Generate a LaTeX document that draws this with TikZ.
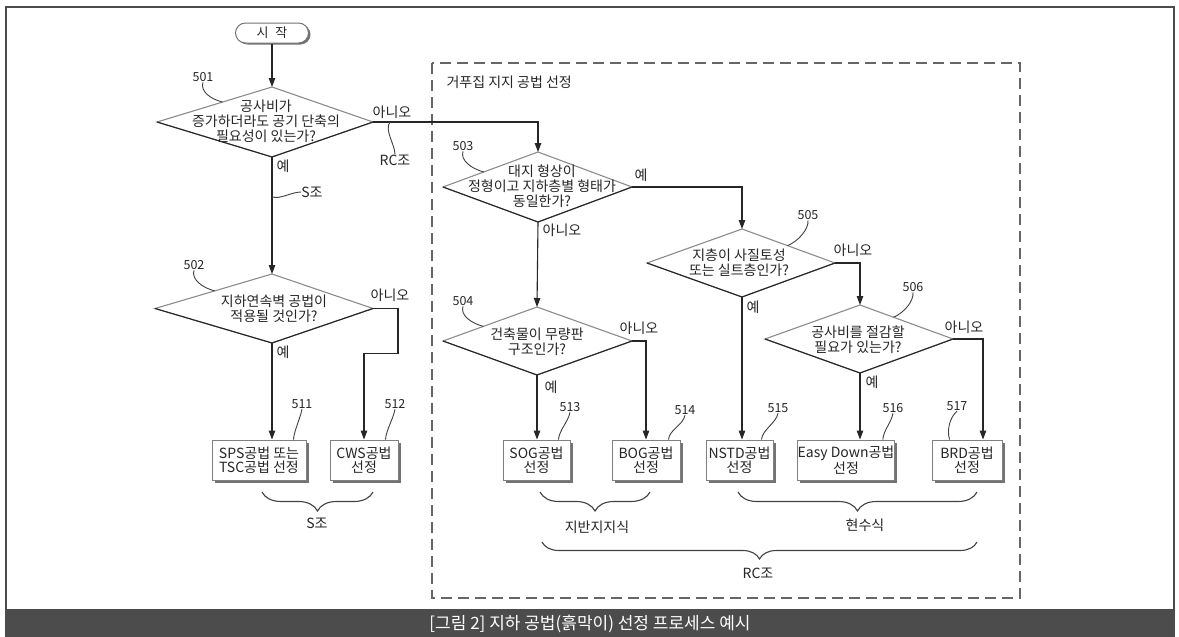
\documentclass[tikz,border=0pt]{standalone}
\usepackage{fontspec}
\setmainfont{Noto Sans CJK KR}
\usetikzlibrary{shapes.misc,arrows.meta,decorations.pathreplacing,shadows,calc}
\newcommand{\myfs}[2]{\fontsize{#1}{#2}\selectfont}
% name, cx, cy, half-width left, half-width right, half-height
\newcommand{\mykite}[6]{%
  \coordinate (#1n) at (#2,#3-#6);
  \coordinate (#1s) at (#2,#3+#6);
  \coordinate (#1w) at (#2-#4,#3);
  \coordinate (#1e) at (#2+#5,#3);
  \draw[dlite] (#1w) -- (#1n) -- (#1e) -- (#1s) -- cycle;
  \draw[ddark] (#1w) -- (#1s) -- (#1e);
}
\begin{document}
\begin{tikzpicture}[x=1pt,y=-1pt,
  ln/.style={draw=black!85, line width=1.1pt, line join=miter},
  arr/.style={ln, -{Triangle[length=9pt,width=6.5pt]}},
  dlite/.style={draw=black!45, line width=1.1pt, line join=miter},
  ddark/.style={draw=black!85, line width=1.1pt, line join=miter},
  dtxt/.style={align=center, font=\myfs{14}{14.8}, text=black!85, inner sep=0pt},
  box/.style={rectangle, draw=black!50, line width=0.9pt, fill=white, minimum height=40pt, inner sep=0pt, align=center, font=\myfs{14}{14.5}, text=black!85, drop shadow={shadow xshift=2.5pt, shadow yshift=-2.5pt, fill=black!55, opacity=1}},
  num/.style={font=\myfs{12.5}{13}, text=black!85, inner sep=0.5pt},
  yn/.style={font=\myfs{14}{15}, text=black!85, inner sep=0pt},
  lead/.style={draw=black!75, line width=0.9pt},
  brc/.style={draw=black!75, line width=1.1pt, decorate, decoration={brace, mirror, amplitude=19pt}}
]
\useasboundingbox (0,0) rectangle (1179,637);
\fill[white] (0,0) rectangle (1179,637);
% outer frame and caption bar
\draw[draw=black!70, line width=1.5pt] (6,7) rectangle (1174,610);
\fill[black!70] (5,611) rectangle (1175,637);
\node[text=white, font=\myfs{17}{18}] (cap) at (590,624) {[그림 2] 지하 공법(흙막이) 선정 프로세스 예시};

% dashed group frame
\draw[draw=black!60, line width=1.1pt, dash pattern=on 11pt off 6pt] (432,63) rectangle (1020,598);
\node[anchor=west, font=\myfs{14}{15}, text=black!85] (ttl) at (443,82) {거푸집 지지 공법 선정};

% start
\node[rounded rectangle, draw=black!55, line width=1pt, fill=white, minimum width=73pt, minimum height=20pt, inner sep=0pt, font=\myfs{13}{14}, text=black!85, drop shadow={shadow xshift=2pt, shadow yshift=-1.5pt, fill=black!55, opacity=1}] (start) at (272,33) {시\hspace{7pt}작};

% decisions
\mykite{d501}{272}{122}{115}{101}{35}
\mykite{d502}{272}{308.5}{117}{101}{34.5}
\mykite{d503}{538}{187}{95}{94}{35}
\mykite{d504}{537}{341}{94}{95}{34}
\mykite{d505}{742}{263}{95}{93}{34}
\mykite{d506}{860}{339}{95}{93}{34}

\node[dtxt] (t501) at (266,121) {공사비가\\증가하더라도 공기 단축의\\필요성이 있는가?};
\node[dtxt] (t502) at (274,309) {지하연속벽 공법이\\적용될 것인가?};
\node[dtxt] (t503) at (542,186) {대지 형상이\\정형이고 지하층별 형태가\\동일한가?};
\node[dtxt] (t504) at (537,342) {건축물이 무량판\\구조인가?};
\node[dtxt] (t505) at (739,263) {지층이 사질토성\\또는 실트층인가?};
\node[dtxt] (t506) at (858,340) {공사비를 절감할\\필요가 있는가?};

% result boxes
\node[box, minimum width=94pt] (b511) at (259,460) {SPS공법 또는\\TSC공법 선정};
\node[box, minimum width=68pt] (b512) at (364,460) {CWS공법\\선정};
\node[box, minimum width=67pt] (b513) at (536.5,460) {SOG공법\\선정};
\node[box, minimum width=68pt] (b514) at (646,460) {BOG공법\\선정};
\node[box, minimum width=67pt] (b515) at (739.5,460) {NSTD공법\\선정};
\node[box, minimum width=92pt] (b516) at (846,460) {Easy Down공법\\선정};
\node[box, minimum width=70pt] (b517) at (967,460) {BRD공법\\선정};

% connectors
\draw[arr] (start.south) -- (d501n);
\draw[arr] (d501e) -| (d503n);
\draw[arr] (d501s) -- (d502n);
\draw[arr] (d502s) -- (d502s |- b511.north);
\draw[arr] (d502e) -| ++(25,45) -| (b512.north);
\draw[arr] (d503e) -| (d505n);
\draw[arr] (d503s) -- (d504n);
\draw[arr] (d504s) -- (d504s |- b513.north);
\draw[arr] (d504e) -| (b514.north);
\draw[arr] (d505s) -- (d505s |- b515.north);
\draw[arr] (d505e) -| (d506n);
\draw[arr] (d506s) -- (d506s |- b516.north);
\coordinate (b517in) at ($(b517.north)+(16,0)$);
\draw[arr] (d506e) -| (b517in);

% yes / no labels
\node[yn] (n501) at (392,112) {아니오};
\node[yn] (y501) at (283,166) {예};
\node[yn] (n502) at (390,295) {아니오};
\node[yn] (y502) at (283,352) {예};
\node[yn] (y503) at (641,175) {예};
\node[yn] (n503) at (562,230) {아니오};
\node[yn] (n504) at (639,328) {아니오};
\node[yn] (y504) at (551,387) {예};
\node[yn] (n505) at (853,250) {아니오};
\node[yn] (y505) at (753,307) {예};
\node[yn] (n506) at (964,327) {아니오};
\node[yn] (y506) at (872,382) {예};

% RC / S labels with leaders
\coordinate (rcp) at ($(d501e)+(17,0)$);
\node[yn] (rc1) at (395,160) {RC조};
\draw[lead] (rcp) .. controls +(-6,8) and +(0,-10) .. (rc1.north);
\coordinate (sp) at ($(d501s)!0.34!(d502n)$);
\node[yn] (s1) at (312,192) {S조};
\draw[lead] (sp) .. controls +(8,3) and +(-10,0) .. (s1.west);

% reference numbers
\node[num] (l501) at (203,77) {501};
\node[num] (l502) at (194,265) {502};
\node[num] (l503) at (463,146) {503};
\node[num] (l504) at (463,301) {504};
\node[num] (l505) at (808,215) {505};
\node[num] (l506) at (913,287) {506};
\node[num] (l511) at (302,404) {511};
\node[num] (l512) at (395,404) {512};
\node[num] (l513) at (570,407) {513};
\node[num] (l514) at (685,410) {514};
\node[num] (l515) at (778,408) {515};
\node[num] (l516) at (893,408) {516};
\node[num] (l517) at (957,406) {517};

\coordinate (e501) at ($(d501n)!0.43!(d501w)$);
\coordinate (e502) at ($(d502n)!0.49!(d502w)$);
\coordinate (e503) at ($(d503n)!0.57!(d503w)$);
\coordinate (e504) at ($(d504n)!0.57!(d504w)$);
\coordinate (e505) at ($(d505n)!0.49!(d505e)$);
\coordinate (e506) at ($(d506n)!0.36!(d506e)$);
\coordinate (e511) at ($(b511.north east)+(-13,0)$);
\coordinate (e512) at ($(b512.north east)+(-13,0)$);
\coordinate (e513) at ($(b513.north east)+(-12,0)$);
\coordinate (e514) at ($(b514.north east)+(-12,0)$);
\coordinate (e515) at ($(b515.north east)+(-12,0)$);
\coordinate (e516) at ($(b516.north east)+(-12,0)$);
\coordinate (e517) at ($(b517.north west)+(18,0)$);

\draw[lead] (l501.south) .. controls +(-3,9) and +(-12,-3) .. (e501);
\draw[lead] (l502.south) .. controls +(-3,9) and +(-12,-3) .. (e502);
\draw[lead] (l503.south) .. controls +(-3,9) and +(-12,-3) .. (e503);
\draw[lead] (l504.south) .. controls +(-3,9) and +(-12,-3) .. (e504);
\draw[lead] (l505.south) .. controls +(1,9) and +(10,-4) .. (e505);
\draw[lead] (l506.south) .. controls +(1,9) and +(10,-4) .. (e506);
\draw[lead] (l511.south) .. controls +(-2,10) and +(1,-10) .. (e511);
\draw[lead] (l512.south) .. controls +(-2,10) and +(1,-10) .. (e512);
\draw[lead] (l513.south) .. controls +(-2,10) and +(1,-10) .. (e513);
\draw[lead] (l514.south) .. controls +(-2,10) and +(1,-10) .. (e514);
\draw[lead] (l515.south) .. controls +(-2,10) and +(1,-10) .. (e515);
\draw[lead] (l516.south) .. controls +(-2,10) and +(1,-10) .. (e516);
\draw[lead] (l517.south) .. controls +(-7,6) and +(-3,-10) .. (e517);

% braces
\draw[brc] (262,492) -- (373,492);
\draw[brc] (540,492) -- (650,492);
\draw[brc] (738,492) -- (977,492);
\draw[brc, decoration={amplitude=17pt}] (542,542) -- (977,542);
\node[yn] (g1) at (317,523) {S조};
\node[yn] (g2) at (597,527) {지반지지식};
\node[yn] (g3) at (865,525) {현수식};
\node[yn] (g4) at (758,573) {RC조};
\end{tikzpicture}
\end{document}
